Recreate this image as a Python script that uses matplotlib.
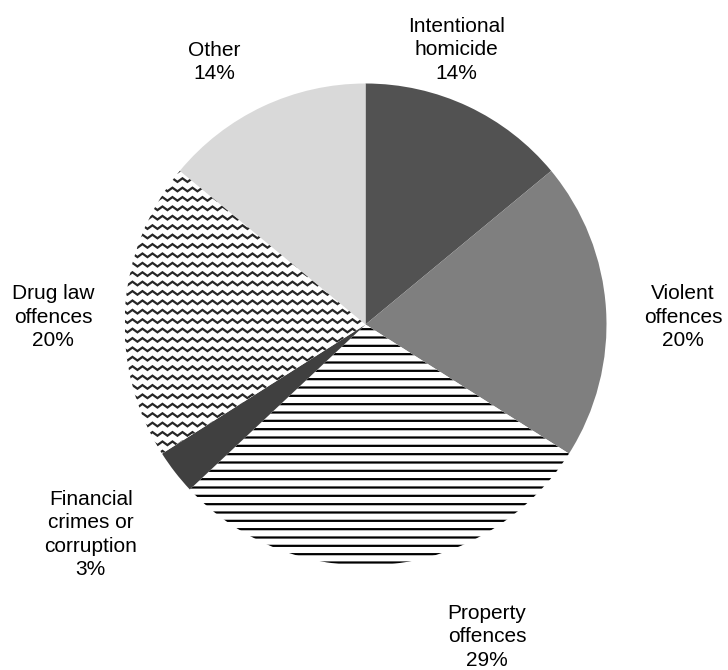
import numpy as np
import matplotlib
matplotlib.use('Agg')
import matplotlib.pyplot as plt

plt.rcParams['font.family'] = ['Liberation Sans', 'DejaVu Sans']
plt.rcParams['hatch.linewidth'] = 1.6

# Data
labels = ['Intentional\nhomicide', 'Violent\noffences', 'Property\noffences',
          'Financial\ncrimes or\ncorruption', 'Drug law\noffences', 'Other']
shares = [14, 20, 29, 3, 20, 14]
colors = ['#525252', '#7f7f7f', 'white', '#404040', 'white', '#d9d9d9']
# label centres (data units, radius = 1)
label_pos = [(0.376, 1.140), (1.317, 0.031), (0.504, -1.295),
             (-1.140, -0.872), (-1.297, 0.031), (-0.629, 1.090)]

W, H = 728, 670
cx, cy, r = 365.5, 324.5, 241
fig = plt.figure(figsize=(W / 100, H / 100), dpi=100)
ax = fig.add_axes([(cx - r) / W, (H - cy - r) / H, 2 * r / W, 2 * r / H])

wedges, _ = ax.pie(shares, colors=colors, startangle=90, counterclock=False,
                   radius=1, wedgeprops=dict(linewidth=0))

# property offences: horizontal stripes
wedges[2].set_hatch('--')
wedges[2].set_edgecolor('black')
wedges[2].set_linewidth(0)

# drug law offences: zigzag texture clipped to the wedge
px = 1 / r
period = 10 * px
amp = 1.8 * px
xs = np.arange(-1.05, 1.05, period / 2)
for y0 in np.arange(-1.0, 1.0, 9.4 * px):
    ys = y0 + amp * np.where(np.arange(len(xs)) % 2 == 0, 1, -1)
    line, = ax.plot(xs, ys, color='#262626', lw=1.6, solid_joinstyle='miter')
    line.set_clip_path(wedges[4])

for lab, s, (x, y) in zip(labels, shares, label_pos):
    ax.text(x, y, f'{lab}\n{s}%', ha='center', va='center', fontsize=15,
            linespacing=1.3, color='black')

ax.set_xlim(-1, 1)
ax.set_ylim(-1, 1)
ax.set_aspect('equal')
ax.axis('off')

fig.savefig('out.png', dpi=100)
